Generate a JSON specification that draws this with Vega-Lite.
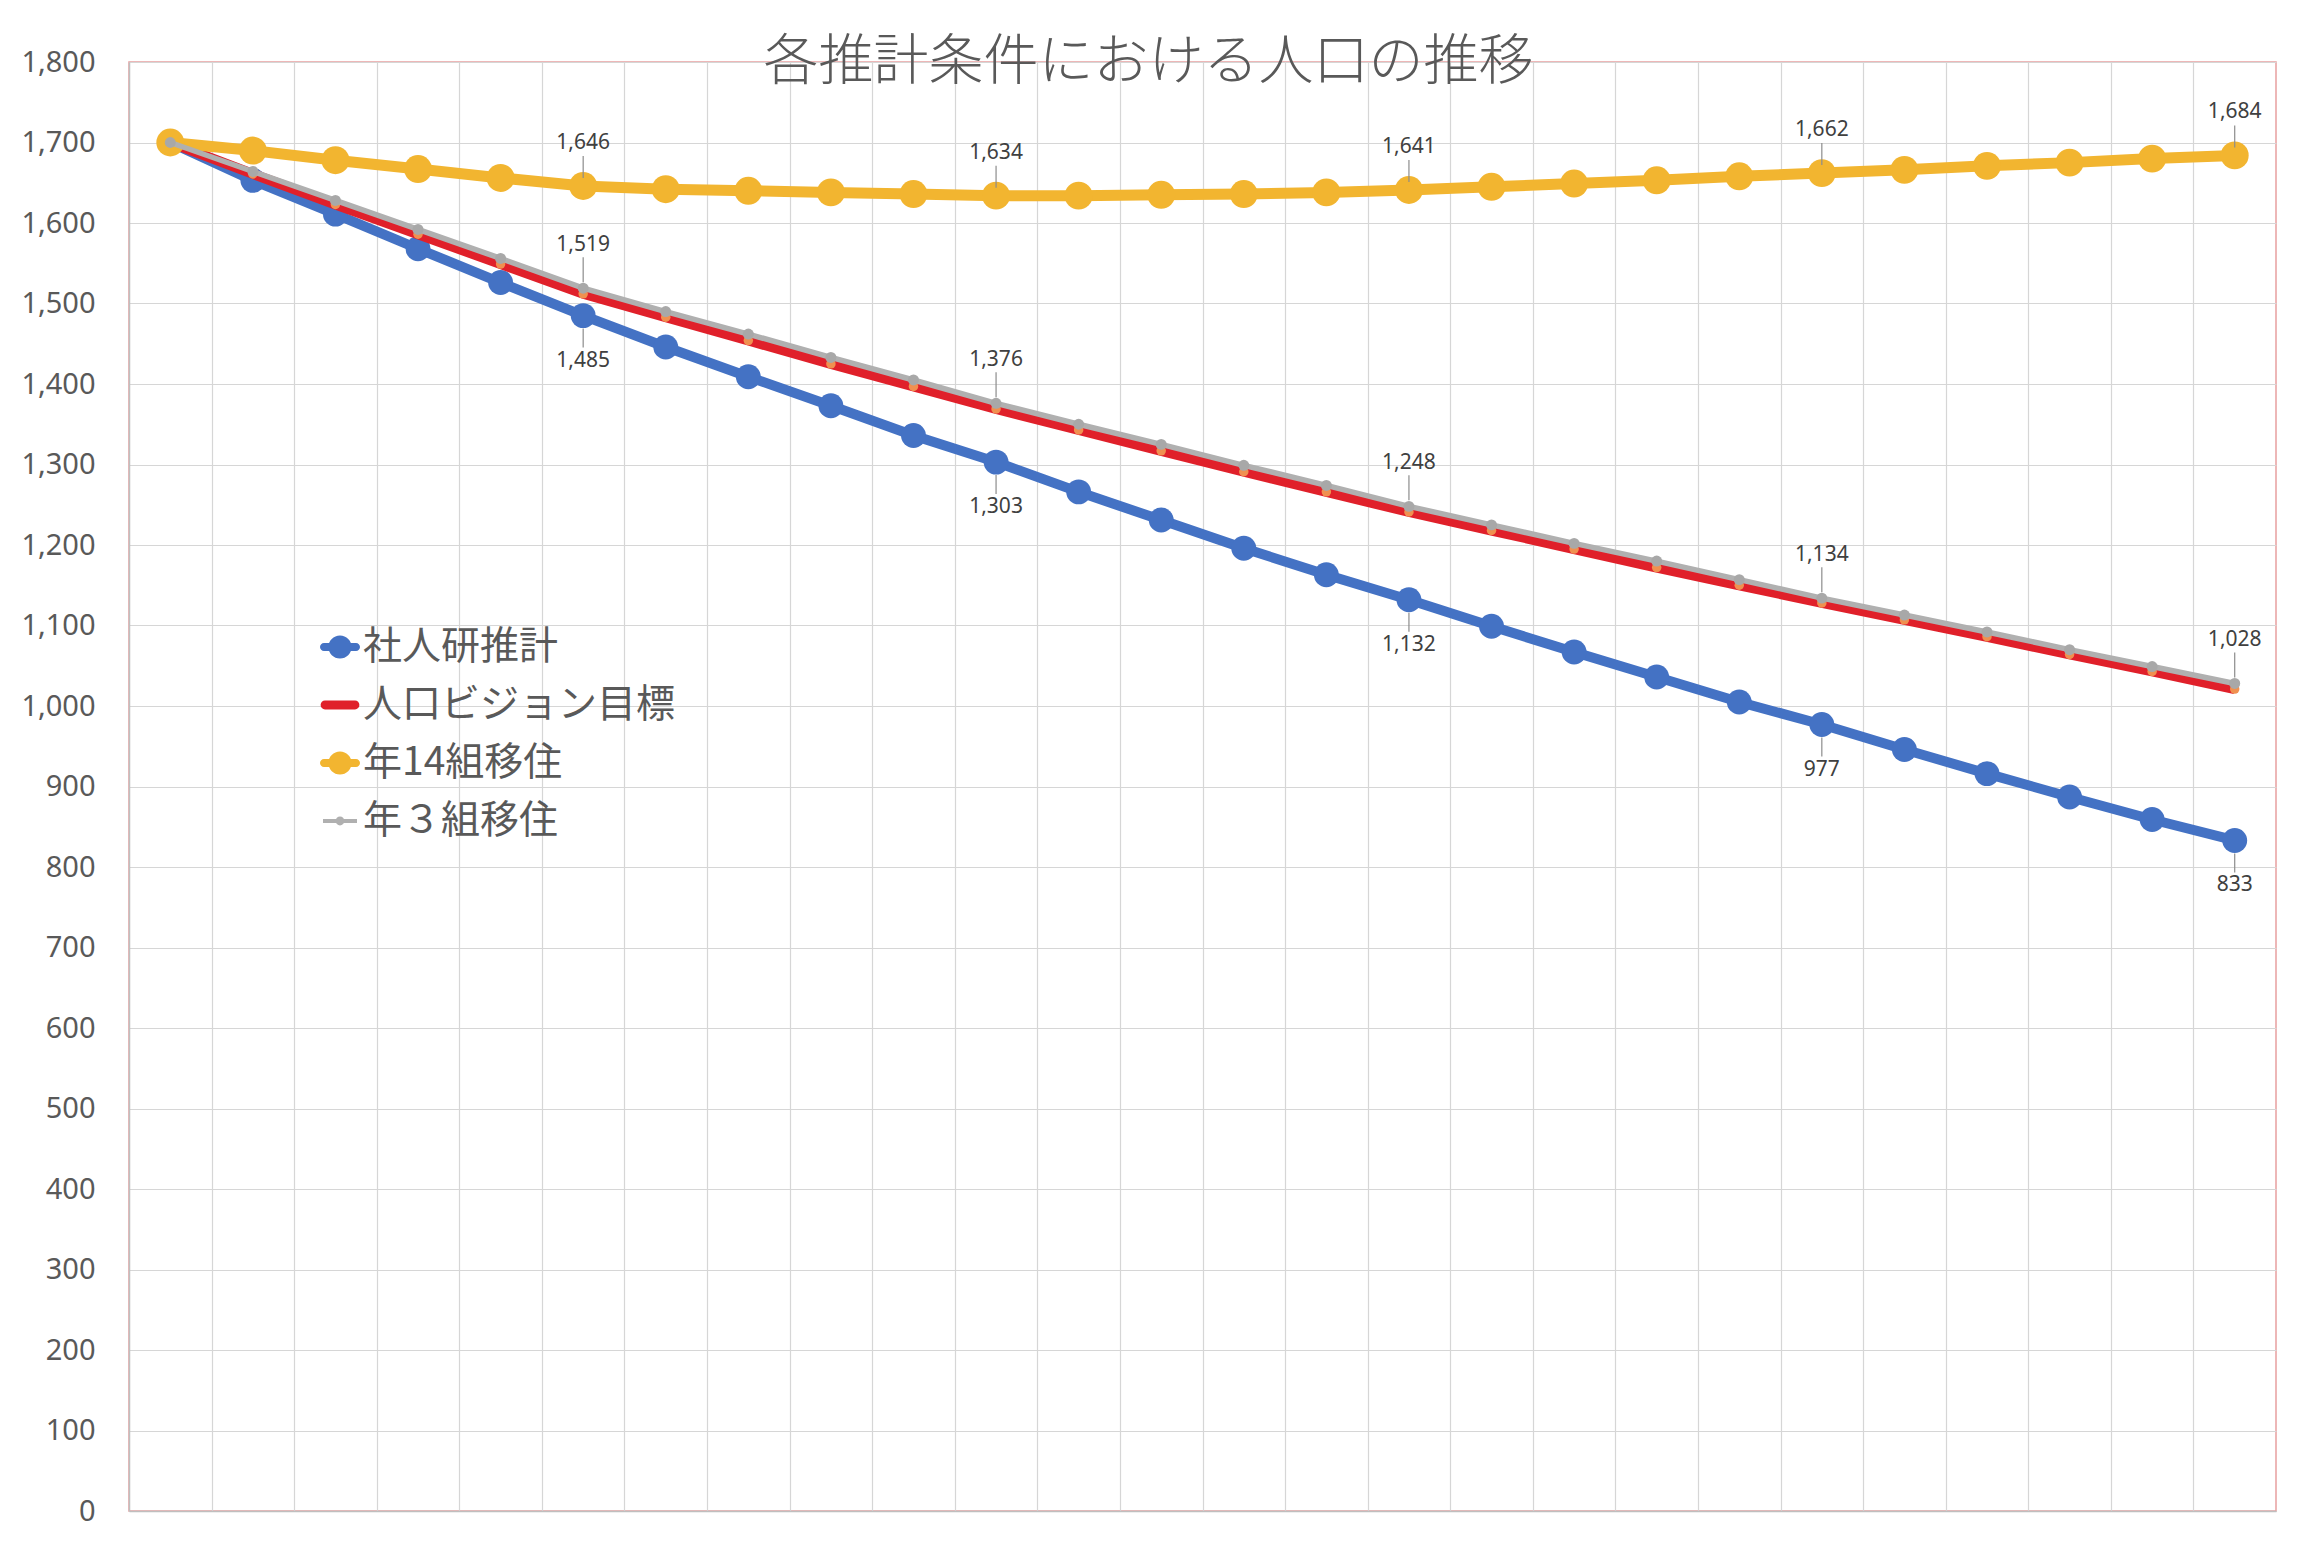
{
  "$schema": "https://vega.github.io/schema/vega-lite/v6.json",
  "width": 2147,
  "height": 1449,
  "autosize": {"type": "none"},
  "padding": {"left": 129, "top": 62, "right": 29, "bottom": 44},
  "background": "white",
  "title": {
    "text": "各推計条件における人口の推移",
    "font": "Noto Sans CJK JP",
    "fontSize": 55,
    "fontWeight": 300,
    "color": "#595959",
    "anchor": "middle",
    "frame": "bounds",
    "baseline": "alphabetic",
    "offset": -86
  },
  "config": {
    "view": {"stroke": "#E8A0A0", "strokeWidth": 1.5},
    "axis": {"title": null, "gridColor": "#D6D6D6", "gridWidth": 1.2, "domainColor": "#BFBFBF", "domainWidth": 1.5},
    "legend": {
      "orient": "none", "legendX": 191, "legendY": 565, "title": null,
      "symbolSize": 1600, "labelFontSize": 39, "labelFont": "Noto Sans CJK JP", "labelColor": "#595959",
      "rowPadding": 18, "labelOffset": 3, "padding": 0, "symbolStrokeWidth": 0, "symbolOpacity": 1, "labelLimit": 800
    }
  },
  "datasets": {
    "pop": [
      {"series": "社人研推計", "t": 0, "value": 1700}, {"series": "社人研推計", "t": 1, "value": 1653}, {"series": "社人研推計", "t": 2, "value": 1611}, {"series": "社人研推計", "t": 3, "value": 1568}, {"series": "社人研推計", "t": 4, "value": 1526}, {"series": "社人研推計", "t": 5, "value": 1485}, {"series": "社人研推計", "t": 6, "value": 1446}, {"series": "社人研推計", "t": 7, "value": 1409}, {"series": "社人研推計", "t": 8, "value": 1373}, {"series": "社人研推計", "t": 9, "value": 1336}, {"series": "社人研推計", "t": 10, "value": 1303}, {"series": "社人研推計", "t": 11, "value": 1266}, {"series": "社人研推計", "t": 12, "value": 1231}, {"series": "社人研推計", "t": 13, "value": 1196}, {"series": "社人研推計", "t": 14, "value": 1163}, {"series": "社人研推計", "t": 15, "value": 1132}, {"series": "社人研推計", "t": 16, "value": 1099}, {"series": "社人研推計", "t": 17, "value": 1067}, {"series": "社人研推計", "t": 18, "value": 1036}, {"series": "社人研推計", "t": 19, "value": 1005}, {"series": "社人研推計", "t": 20, "value": 977}, {"series": "社人研推計", "t": 21, "value": 946}, {"series": "社人研推計", "t": 22, "value": 916}, {"series": "社人研推計", "t": 23, "value": 887}, {"series": "社人研推計", "t": 24, "value": 859}, {"series": "社人研推計", "t": 25, "value": 833},
      {"series": "人口ビジョン目標", "t": 0, "value": 1700}, {"series": "人口ビジョン目標", "t": 1, "value": 1661}, {"series": "人口ビジョン目標", "t": 2, "value": 1623}, {"series": "人口ビジョン目標", "t": 3, "value": 1586}, {"series": "人口ビジョン目標", "t": 4, "value": 1549}, {"series": "人口ビジョン目標", "t": 5, "value": 1512}, {"series": "人口ビジョン目標", "t": 6, "value": 1483}, {"series": "人口ビジョン目標", "t": 7, "value": 1454}, {"series": "人口ビジョン目標", "t": 8, "value": 1425}, {"series": "人口ビジョン目標", "t": 9, "value": 1397}, {"series": "人口ビジョン目標", "t": 10, "value": 1369}, {"series": "人口ビジョン目標", "t": 11, "value": 1343}, {"series": "人口ビジョン目標", "t": 12, "value": 1317}, {"series": "人口ビジョン目標", "t": 13, "value": 1291}, {"series": "人口ビジョン目標", "t": 14, "value": 1266}, {"series": "人口ビジョン目標", "t": 15, "value": 1241}, {"series": "人口ビジョン目標", "t": 16, "value": 1218}, {"series": "人口ビジョン目標", "t": 17, "value": 1195}, {"series": "人口ビジョン目標", "t": 18, "value": 1172}, {"series": "人口ビジョン目標", "t": 19, "value": 1150}, {"series": "人口ビジョン目標", "t": 20, "value": 1128}, {"series": "人口ビジョン目標", "t": 21, "value": 1107}, {"series": "人口ビジョン目標", "t": 22, "value": 1086}, {"series": "人口ビジョン目標", "t": 23, "value": 1064}, {"series": "人口ビジョン目標", "t": 24, "value": 1043}, {"series": "人口ビジョン目標", "t": 25, "value": 1021},
      {"series": "年14組移住", "t": 0, "value": 1700}, {"series": "年14組移住", "t": 1, "value": 1690}, {"series": "年14組移住", "t": 2, "value": 1678}, {"series": "年14組移住", "t": 3, "value": 1667}, {"series": "年14組移住", "t": 4, "value": 1656}, {"series": "年14組移住", "t": 5, "value": 1646}, {"series": "年14組移住", "t": 6, "value": 1642}, {"series": "年14組移住", "t": 7, "value": 1640}, {"series": "年14組移住", "t": 8, "value": 1638}, {"series": "年14組移住", "t": 9, "value": 1636}, {"series": "年14組移住", "t": 10, "value": 1634}, {"series": "年14組移住", "t": 11, "value": 1634}, {"series": "年14組移住", "t": 12, "value": 1635}, {"series": "年14組移住", "t": 13, "value": 1636}, {"series": "年14組移住", "t": 14, "value": 1638}, {"series": "年14組移住", "t": 15, "value": 1641}, {"series": "年14組移住", "t": 16, "value": 1645}, {"series": "年14組移住", "t": 17, "value": 1649}, {"series": "年14組移住", "t": 18, "value": 1653}, {"series": "年14組移住", "t": 19, "value": 1658}, {"series": "年14組移住", "t": 20, "value": 1662}, {"series": "年14組移住", "t": 21, "value": 1666}, {"series": "年14組移住", "t": 22, "value": 1671}, {"series": "年14組移住", "t": 23, "value": 1675}, {"series": "年14組移住", "t": 24, "value": 1680}, {"series": "年14組移住", "t": 25, "value": 1684},
      {"series": "年３組移住", "t": 0, "value": 1700}, {"series": "年３組移住", "t": 1, "value": 1664}, {"series": "年３組移住", "t": 2, "value": 1628}, {"series": "年３組移住", "t": 3, "value": 1592}, {"series": "年３組移住", "t": 4, "value": 1556}, {"series": "年３組移住", "t": 5, "value": 1519}, {"series": "年３組移住", "t": 6, "value": 1490}, {"series": "年３組移住", "t": 7, "value": 1462}, {"series": "年３組移住", "t": 8, "value": 1433}, {"series": "年３組移住", "t": 9, "value": 1405}, {"series": "年３組移住", "t": 10, "value": 1376}, {"series": "年３組移住", "t": 11, "value": 1350}, {"series": "年３組移住", "t": 12, "value": 1325}, {"series": "年３組移住", "t": 13, "value": 1299}, {"series": "年３組移住", "t": 14, "value": 1274}, {"series": "年３組移住", "t": 15, "value": 1248}, {"series": "年３組移住", "t": 16, "value": 1225}, {"series": "年３組移住", "t": 17, "value": 1202}, {"series": "年３組移住", "t": 18, "value": 1180}, {"series": "年３組移住", "t": 19, "value": 1157}, {"series": "年３組移住", "t": 20, "value": 1134}, {"series": "年３組移住", "t": 21, "value": 1113}, {"series": "年３組移住", "t": 22, "value": 1092}, {"series": "年３組移住", "t": 23, "value": 1070}, {"series": "年３組移住", "t": 24, "value": 1049}, {"series": "年３組移住", "t": 25, "value": 1028}
    ]
  },
  "data": {"name": "pop"},
  "encoding": {
    "x": {
      "field": "t", "type": "quantitative",
      "scale": {"domain": [-0.5, 25.5], "nice": false, "zero": false},
      "axis": {"labels": false, "ticks": false, "grid": true, "domain": true,
        "values": [0.5, 1.5, 2.5, 3.5, 4.5, 5.5, 6.5, 7.5, 8.5, 9.5, 10.5, 11.5, 12.5, 13.5, 14.5, 15.5, 16.5, 17.5, 18.5, 19.5, 20.5, 21.5, 22.5, 23.5, 24.5]}
    },
    "y": {
      "field": "value", "type": "quantitative",
      "scale": {"domain": [0, 1800], "nice": false},
      "axis": {"values": [0, 100, 200, 300, 400, 500, 600, 700, 800, 900, 1000, 1100, 1200, 1300, 1400, 1500, 1600, 1700, 1800],
        "format": ",d", "labelFont": "Noto Sans", "labelFontSize": 29, "labelColor": "#595959",
        "ticks": false, "tickSize": 0, "labelPadding": 34, "grid": true, "labelOverlap": false}
    }
  },
  "layer": [
    {
      "transform": [{"filter": "datum.series === '社人研推計'"}],
      "mark": {"type": "line", "strokeWidth": 10, "color": "#4472C4"}
    },
    {
      "transform": [{"filter": "datum.series === '社人研推計'"}],
      "mark": {"type": "point", "filled": true, "opacity": 1, "size": 620, "color": "#4472C4"}
    },
    {
      "transform": [{"filter": "datum.series === '人口ビジョン目標'"}],
      "mark": {"type": "line", "strokeWidth": 10, "color": "#E0202A"}
    },
    {
      "transform": [{"filter": "datum.series === '人口ビジョン目標'"}],
      "mark": {"type": "point", "filled": true, "opacity": 1, "size": 90, "color": "#F09050"}
    },
    {
      "transform": [{"filter": "datum.series === '年14組移住'"}],
      "mark": {"type": "line", "strokeWidth": 11, "color": "#F2B530"}
    },
    {
      "transform": [{"filter": "datum.series === '年14組移住'"}],
      "mark": {"type": "point", "filled": true, "opacity": 1, "size": 780, "color": "#F2B530"}
    },
    {
      "transform": [{"filter": "datum.series === '年３組移住'"}],
      "mark": {"type": "line", "strokeWidth": 5.5, "color": "#B0B0B0"}
    },
    {
      "transform": [{"filter": "datum.series === '年３組移住'"}],
      "mark": {"type": "point", "filled": true, "opacity": 1, "size": 120, "color": "#A8A8A8"}
    },
    {
      "transform": [{"filter": "datum.series === '社人研推計'"}, {"filter": {"field": "t", "oneOf": [5, 10, 15, 20, 25]}}],
      "mark": {"type": "rule", "color": "#8C8C8C", "strokeWidth": 1.2, "yOffset": 13, "y2Offset": 32},
      "encoding": {"y2": {"field": "value"}}
    },
    {
      "transform": [{"filter": "datum.series === '年14組移住'"}, {"filter": {"field": "t", "oneOf": [5, 10, 15, 20, 25]}}],
      "mark": {"type": "rule", "color": "#8C8C8C", "strokeWidth": 1.2, "yOffset": -8, "y2Offset": -30},
      "encoding": {"y2": {"field": "value"}}
    },
    {
      "transform": [{"filter": "datum.series === '年３組移住'"}, {"filter": {"field": "t", "oneOf": [5, 10, 15, 20, 25]}}],
      "mark": {"type": "rule", "color": "#8C8C8C", "strokeWidth": 1.2, "yOffset": -6, "y2Offset": -31},
      "encoding": {"y2": {"field": "value"}}
    },
    {
      "transform": [{"filter": "datum.series === '社人研推計'"}, {"filter": {"field": "t", "oneOf": [5, 10, 15, 20, 25]}}],
      "mark": {"type": "text", "dy": 45, "font": "Noto Sans", "fontSize": 21, "color": "#404040", "baseline": "middle", "align": "center"},
      "encoding": {"text": {"field": "value", "type": "quantitative", "format": ","}}
    },
    {
      "transform": [{"filter": "datum.series === '年14組移住'"}, {"filter": {"field": "t", "oneOf": [5, 10, 15, 20, 25]}}],
      "mark": {"type": "text", "dy": -43, "font": "Noto Sans", "fontSize": 21, "color": "#404040", "baseline": "middle", "align": "center"},
      "encoding": {"text": {"field": "value", "type": "quantitative", "format": ","}}
    },
    {
      "transform": [{"filter": "datum.series === '年３組移住'"}, {"filter": {"field": "t", "oneOf": [5, 10, 15, 20, 25]}}],
      "mark": {"type": "text", "dy": -43, "font": "Noto Sans", "fontSize": 21, "color": "#404040", "baseline": "middle", "align": "center"},
      "encoding": {"text": {"field": "value", "type": "quantitative", "format": ","}}
    },
    {
      "transform": [{"filter": "false"}],
      "mark": {"type": "point", "filled": true, "opacity": 1, "size": 1600},
      "encoding": {
        "color": {
          "field": "series", "type": "nominal",
          "scale": {"domain": ["社人研推計", "人口ビジョン目標", "年14組移住", "年３組移住"], "range": ["#4472C4", "#E0202A", "#F2B530", "#B0B0B0"]},
          "legend": {"title": null}
        },
        "shape": {
          "field": "series", "type": "nominal",
          "scale": {"domain": ["社人研推計", "人口ビジョン目標", "年14組移住", "年３組移住"],
            "range": [
              "M-0.8,-0.2 L0.8,-0.2 A0.2,0.2 0 0 1 0.8,0.2 L-0.8,0.2 A0.2,0.2 0 0 1 -0.8,-0.2 Z M0.58,0 A0.58,0.58 0 1 1 -0.58,0 A0.58,0.58 0 1 1 0.58,0 Z",
              "M-0.75,-0.22 L0.75,-0.22 A0.22,0.22 0 0 1 0.75,0.22 L-0.75,0.22 A0.22,0.22 0 0 1 -0.75,-0.22 Z",
              "M-0.8,-0.2 L0.8,-0.2 A0.2,0.2 0 0 1 0.8,0.2 L-0.8,0.2 A0.2,0.2 0 0 1 -0.8,-0.2 Z M0.58,0 A0.58,0.58 0 1 1 -0.58,0 A0.58,0.58 0 1 1 0.58,0 Z",
              "M-0.85,-0.1 L0.85,-0.1 L0.85,0.1 L-0.85,0.1 Z M0.22,0 A0.22,0.22 0 1 1 -0.22,0 A0.22,0.22 0 1 1 0.22,0 Z"
            ]},
          "legend": {"title": null}
        }
      }
    }
  ]
}
